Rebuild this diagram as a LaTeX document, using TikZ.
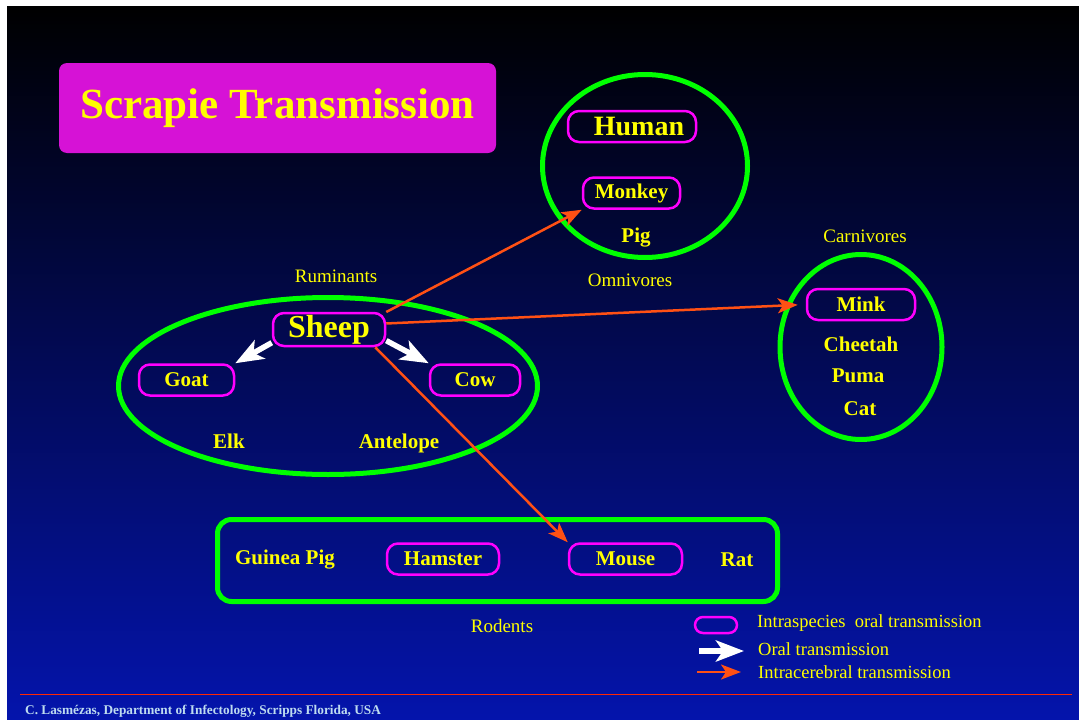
\documentclass[tikz,border=0pt]{standalone}
\usepackage{fontspec}
\setmainfont{Liberation Serif}
\usetikzlibrary{shapes.geometric, arrows.meta, positioning}
\definecolor{slidetop}{RGB}{0,0,0}
\definecolor{slidemid}{RGB}{0,8,122}
\definecolor{slidebottom}{RGB}{4,20,172}
\definecolor{titlecolor}{RGB}{214,18,214}
\definecolor{speciescolor}{RGB}{255,0,255}
\definecolor{groupcolor}{RGB}{0,255,0}
\definecolor{labelcolor}{RGB}{255,255,0}
\definecolor{iccolor}{RGB}{255,80,20}
\definecolor{footcolor}{RGB}{190,220,240}
\definecolor{rulecolor}{RGB}{255,40,0}

\begin{document}
\begin{tikzpicture}[
    x=1pt, y=-1pt,
    title/.style={fill=titlecolor, rounded corners=8pt, minimum width=437pt, minimum height=90pt, text=labelcolor, font=\bfseries\fontsize{43}{48}\selectfont},
    group/.style={draw=groupcolor, line width=5pt, ellipse, inner sep=0pt},
    species/.style={draw=speciescolor, line width=2.5pt, rounded corners=11pt, minimum height=31pt, inner sep=0pt, text=labelcolor, font=\bfseries\fontsize{21}{24}\selectfont},
    animal/.style={text=labelcolor, inner sep=0pt, font=\bfseries\fontsize{21}{24}\selectfont},
    grouplabel/.style={text=labelcolor, inner sep=0pt, font=\fontsize{19}{22}\selectfont},
    keytext/.style={text=labelcolor, inner sep=0pt, anchor=west, font=\fontsize{18.5}{22}\selectfont},
    oral/.style={-{Stealth[length=28pt,width=21pt,inset=7pt]}, draw=white, line width=5.5pt},
    ic/.style={-{Stealth[length=20pt,width=15pt,inset=5pt]}, draw=iccolor, line width=2.5pt}
]
    \useasboundingbox (0,0) rectangle (1079,720);
    \fill[white] (0,0) rectangle (1079,720);
    \shade[top color=slidetop, middle color=slidemid, bottom color=slidebottom] (7,6) rectangle (1079,720);

    \node[title] (title) at (277.5,108) {Scrapie Transmission};

    \node[group, minimum width=205pt, minimum height=183pt] (omni) at (645,166) {};
    \node[group, minimum width=162pt, minimum height=185pt] (carni) at (861,347) {};
    \node[group, minimum width=419pt, minimum height=177pt] (rumi) at (328,386) {};
    \node[draw=groupcolor, line width=5pt, rounded corners=14pt, minimum width=560pt, minimum height=82pt] (rodents) at (497.5,560.5) {};

    \node[grouplabel] (omnilabel) at (630,280) {Omnivores};
    \node[grouplabel] (carnilabel) at (865,236) {Carnivores};
    \node[grouplabel] (rumilabel) at (336,276) {Ruminants};
    \node[grouplabel] (rodentlabel) at (502,626) {Rodents};

    \node[species, minimum width=128pt, font=\bfseries\fontsize{28}{32}\selectfont] (human) at (632,126.5) {\hspace{14pt}Human};
    \node[species, minimum width=97pt] (monkey) at (631.5,193) {Monkey};
    \node[animal] (pig) at (636,238) {Pig};

    \node[species, minimum width=108pt] (mink) at (861,304.5) {Mink};
    \node[animal] (cheetah) at (861,344) {Cheetah};
    \node[animal] (puma) at (858,376) {Puma};
    \node[animal] (cat) at (860,409) {Cat};

    \node[species, minimum width=112pt, minimum height=33pt, font=\bfseries\fontsize{32}{36}\selectfont] (sheep) at (329,329.5) {Sheep};
    \node[species, minimum width=95pt] (goat) at (186.5,380) {Goat};
    \node[species, minimum width=90pt] (cow) at (475,380) {Cow};
    \node[animal] (elk) at (229,441) {Elk};
    \node[animal] (antelope) at (399,443) {Antelope};

    \node[animal] (guinea) at (285,560) {Guinea Pig};
    \node[species, minimum width=112pt] (hamster) at (443,559) {Hamster};
    \node[species, minimum width=113pt] (mouse) at (625.5,559) {Mouse};
    \node[animal] (rat) at (737,560) {Rat};

    \draw[oral] (sheep.193) -- (goat.north east);
    \draw[oral] (sheep.-11) -- (cow.north west);
    \draw[ic] (sheep.17) -- (monkey.south west);
    \draw[ic, shorten >=8pt] (sheep.6) -- (mink.west);
    \draw[ic] (sheep.-21) -- (mouse.north west);

    \node[species, minimum width=42pt, minimum height=16pt, rounded corners=8pt] (keybox) at (716,625) {};
    \node[keytext] (keyintra) at (757,623) {Intraspecies\ \ oral transmission};
    \coordinate (oralstart) at (699,651);
    \coordinate (oralend) at (744,651);
    \draw[oral, line width=6pt] (oralstart) -- (oralend);
    \node[keytext] (keyoral) at (758,649) {Oral transmission};
    \coordinate (icstart) at (697,672);
    \coordinate (icend) at (741,672);
    \draw[ic] (icstart) -- (icend);
    \node[keytext] (keyic) at (758,672) {Intracerebral transmission};

    \draw[rulecolor, line width=1pt] (20,694) -- (1072,694);
    \node[anchor=west, inner sep=0pt, text=footcolor, font=\bfseries\fontsize{13.3}{15}\selectfont] (credit) at (25,711) {C. Lasmézas, Department of Infectology, Scripps Florida, USA};
\end{tikzpicture}
\end{document}
